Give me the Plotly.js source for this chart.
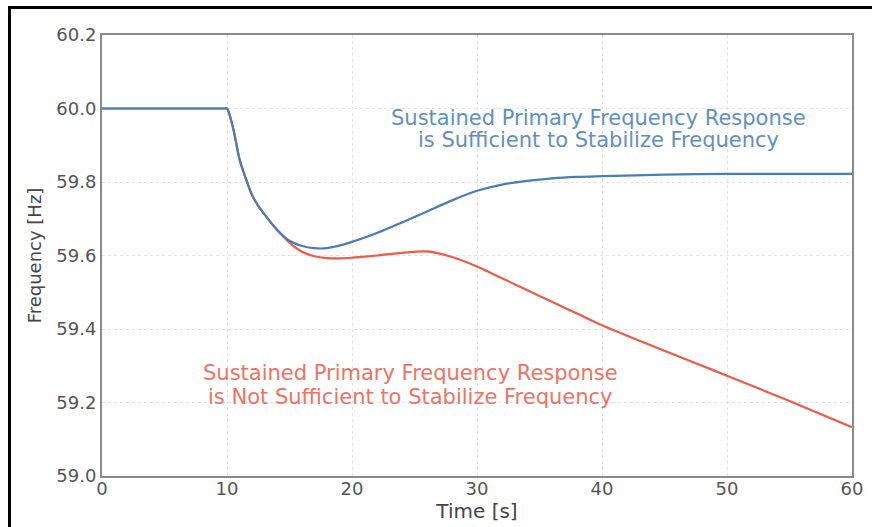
<!DOCTYPE html>
<html>
<head>
<meta charset="utf-8">
<script src="https://cdn.plot.ly/plotly-3.0.1.min.js"></script>
<style>
  html, body { margin: 0; padding: 0; background: #fff; }
  #wrap { position: relative; width: 872px; height: 527px; }
  #chart { width: 872px; height: 527px; }
  #frame { position: absolute; left: 8px; top: 6px; right: -10px; bottom: -10px;
           border-left: 3px solid #000; border-top: 3px solid #000; pointer-events: none; }
</style>
</head>
<body>
<div id="wrap">
  <div id="chart"></div>
  <div id="frame"></div>
</div>
<script>
// Time axis samples [s]
const timeNotSufficient = [0, 9.8, 10, 10.5, 11, 11.5, 12, 12.5, 13, 14, 15, 16, 17, 18, 19, 20, 22, 24, 26, 28, 30, 32, 34, 36, 38, 40, 42.5, 45, 47.5, 50, 55, 60];
const freqNotSufficient = [60.0, 60.0, 60.0, 59.945, 59.862, 59.810, 59.765, 59.735, 59.712, 59.670, 59.635, 59.610, 59.598, 59.593, 59.592, 59.594, 59.600, 59.607, 59.611, 59.596, 59.570, 59.538, 59.506, 59.474, 59.442, 59.410, 59.375, 59.341, 59.307, 59.273, 59.204, 59.133];

const timeSufficient = [0, 9.8, 10, 10.5, 11, 11.5, 12, 12.5, 13, 14, 15, 16, 17, 17.5, 18, 19, 20, 22, 24, 26, 28, 30, 32, 34, 36, 38, 40, 45, 50, 55, 60];
const freqSufficient = [60.0, 60.0, 60.0, 59.945, 59.862, 59.810, 59.765, 59.735, 59.712, 59.670, 59.640, 59.626, 59.620, 59.619, 59.620, 59.627, 59.637, 59.661, 59.690, 59.720, 59.750, 59.776, 59.793, 59.803, 59.810, 59.814, 59.816, 59.820, 59.822, 59.822, 59.822];

const xTicks = [0, 10, 20, 30, 40, 50, 60];
const yTicks = [59.0, 59.2, 59.4, 59.6, 59.8, 60.0, 60.2];
const yTickLabels = ["59.0", "59.2", "59.4", "59.6", "59.8", "60.0", "60.2"];

const labelSufficient = ["Sustained Primary Frequency Response", "is Sufficient to Stabilize Frequency"];
const labelNotSufficient = ["Sustained Primary Frequency Response", "is Not Sufficient to Stabilize Frequency"];

const redLine = '#ee5b49', redText = '#ef7264';
const blueLine = '#4a7db3', blueText = '#6090c2';

const traces = [
  { x: timeNotSufficient, y: freqNotSufficient, mode: 'lines', line: { color: redLine, width: 2.2, shape: 'spline', smoothing: 0.8 }, hoverinfo: 'skip' },
  { x: timeSufficient, y: freqSufficient, mode: 'lines', line: { color: blueLine, width: 2.2, shape: 'spline', smoothing: 0.8 }, hoverinfo: 'skip' }
];

const annFont = (c) => ({ family: 'DejaVu Sans', size: 21, color: c });
const annotations = [
  { x: 39.7, y: 59.974, text: labelSufficient[0], font: annFont(blueText) },
  { x: 39.7, y: 59.914, text: labelSufficient[1], font: annFont(blueText) },
  { x: 24.7, y: 59.280, text: labelNotSufficient[0], font: annFont(redText) },
  { x: 24.7, y: 59.215, text: labelNotSufficient[1], font: annFont(redText) }
].map(a => Object.assign({ xref: 'x', yref: 'y', showarrow: false, xanchor: 'center', yanchor: 'middle' }, a));

const layout = {
  width: 872, height: 527,
  margin: { l: 102, r: 20, t: 35, b: 51 },
  paper_bgcolor: '#fff', plot_bgcolor: '#fff',
  showlegend: false,
  font: { family: 'DejaVu Sans', size: 18, color: '#555' },
  xaxis: {
    range: [0, 60], tickvals: xTicks, ticks: '',
    showline: true, linecolor: '#8a8a8a', linewidth: 2, mirror: true,
    showgrid: true, gridcolor: '#e2e2e2', griddash: 'dot', gridwidth: 1,
    zeroline: false, ticklabelstandoff: -5,
    tickfont: { family: 'DejaVu Sans', size: 18, color: '#555' },
    title: { text: 'Time [s]', font: { family: 'DejaVu Sans', size: 20, color: '#444' }, standoff: 0 }
  },
  yaxis: {
    range: [59.0, 60.2], tickvals: yTicks, ticktext: yTickLabels, ticks: '',
    showline: true, linecolor: '#8a8a8a', linewidth: 2, mirror: true,
    showgrid: true, gridcolor: '#e2e2e2', griddash: 'dot', gridwidth: 1,
    zeroline: false,
    tickfont: { family: 'DejaVu Sans', size: 18, color: '#555' },
    title: { text: 'Frequency [Hz]', font: { family: 'DejaVu Sans', size: 18, color: '#444' }, standoff: 10 }
  },
  annotations: annotations
};

Plotly.newPlot('chart', traces, layout, { staticPlot: true, displayModeBar: false });
</script>
</body>
</html>
